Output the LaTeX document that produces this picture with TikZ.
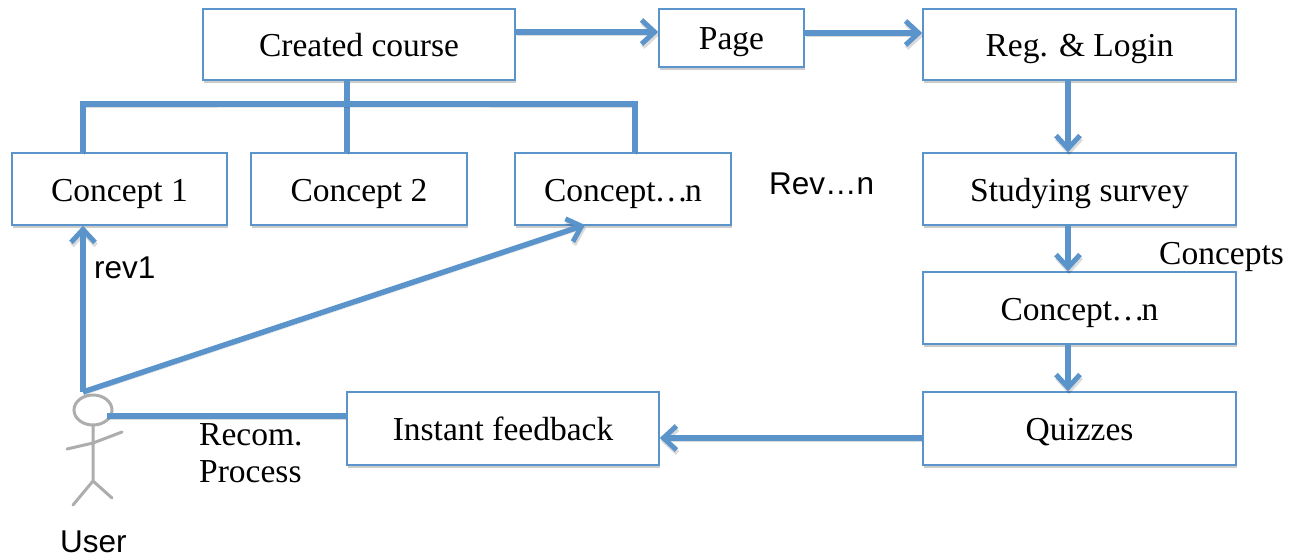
\documentclass[tikz,border=0pt]{standalone}
\usepackage{fontspec}
\setmainfont{Liberation Serif}
\newfontfamily\labelfont{Liberation Sans}
\usetikzlibrary{arrows.meta,shadows}
\definecolor{linkblue}{RGB}{91,148,203}
\newcommand{\tightdots}{\kern-1pt…\kern-3pt}
\tikzset{
 softshadow/.style={drop shadow={shadow xshift=1pt,shadow yshift=-3pt,opacity=0.2,fill=black}},
 box/.style={draw=linkblue,line width=1.5pt,fill=white,inner sep=0pt,text height=26pt,text depth=2pt,font=\fontsize{33.5}{33.5}\selectfont,softshadow},
 link/.style={draw=linkblue,line width=5.5pt,preaction={draw=black,opacity=0.14,transform canvas={shift={(1pt,-3pt)}}}},
 arrowlink/.style={link,-{Straight Barb[length=13pt,width=24pt,line width=5pt]}},
 serifnote/.style={inner sep=0pt,font=\fontsize{33.5}{37}\selectfont,align=left},
 sansnote/.style={inner sep=0pt,font=\labelfont\fontsize{31.5}{31.5}\selectfont},
 stick/.style={draw=black!32,line width=3pt,line cap=round}
}
\begin{document}
\begin{tikzpicture}[x=1pt,y=-1pt]
 \useasboundingbox (0,0) rectangle (1298,559);
 % stick figure
 \draw[stick] (93,410) ellipse (19 and 15);
 \draw[stick] (93,425) -- (93,481) -- (73,505) (93,481) -- (112,498);
 \draw[stick] (67,449) -- (93,443) -- (122,432);
 % boxes
 \node[box,minimum width=312pt,minimum height=71pt] (course) at (359,44.5) {Created course};
 \node[box,minimum width=145pt,minimum height=58pt] (page) at (731.5,38) {Page};
 \node[box,minimum width=313pt,minimum height=71pt] (login) at (1079.5,44.5) {Reg. \& Login};
 \node[box,minimum width=215pt,minimum height=72pt] (concepta) at (119.5,189) {Concept 1};
 \node[box,minimum width=216pt,minimum height=72pt] (conceptb) at (359,189) {Concept 2};
 \node[box,minimum width=216pt,minimum height=72pt] (conceptn) at (623,189) {Concept\tightdots n};
 \node[box,minimum width=313pt,minimum height=72pt] (survey) at (1079.5,189) {Studying survey};
 \node[box,minimum width=313pt,minimum height=72pt] (current) at (1079.5,308) {Concept\tightdots n};
 \node[box,minimum width=313pt,minimum height=73pt] (quiz) at (1079.5,428.5) {Quizzes};
 \node[box,minimum width=312pt,minimum height=73pt] (feedback) at (503,428.5) {Instant feedback};
 % free ends
 \coordinate (user) at (83,392);
 \coordinate (head) at (107,416);
 \coordinate (bus) at (347,104);
 % connectors
 \draw[arrowlink] (course.east |- 0,32) -- (page.west |- 0,32);
 \draw[arrowlink] (page.east |- 0,33) -- (login.west |- 0,33);
 \draw[arrowlink] (login.south -| 1068,0) -- (survey.north -| 1068,0);
 \draw[arrowlink] (survey.south -| 1068,0) -- (current.north -| 1068,0);
 \draw[arrowlink] (current.south -| 1068,0) -- (quiz.north -| 1068,0);
 \draw[arrowlink] (quiz.west |- 0,438) -- (feedback.east |- 0,438);
 \draw[link] (bus |- course.south) -- (bus |- conceptb.north);
 \draw[link] (concepta.north -| 83,0) |- (bus) -| (conceptn.north -| 635,0);
 \draw[arrowlink] (user) -- (user |- concepta.south);
 \draw[arrowlink] (user) -- (585,225);
 \draw[link] (head) -- (head -| feedback.west);
 % labels
 \node[sansnote,anchor=west] (rev1) at (94,268) {rev1};
 \node[sansnote,anchor=west] (revn) at (769,184) {Rev…n};
 \node[sansnote,anchor=west] (username) at (60,542) {User};
 \node[serifnote,anchor=west] (concepts) at (1159,257) {Concepts};
 \node[serifnote,anchor=north west] (recom) at (199,423) {Recom.\\Process};
\end{tikzpicture}
\end{document}
